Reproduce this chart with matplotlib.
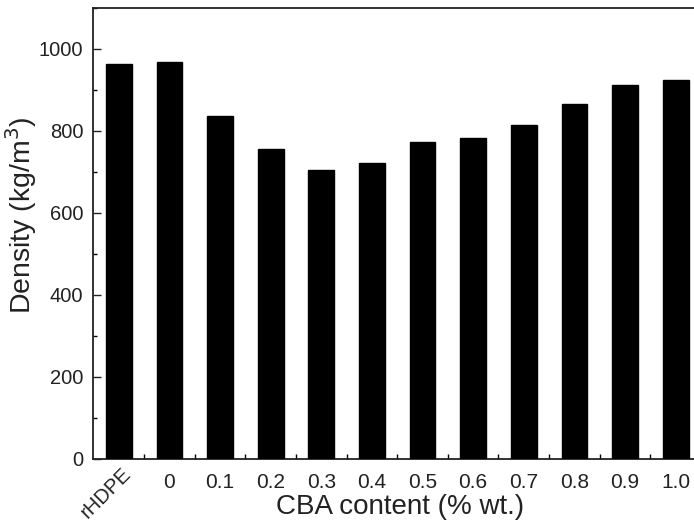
import numpy as np
import matplotlib.pyplot as plt
import matplotlib.transforms as mtransforms
from matplotlib.ticker import MultipleLocator, FixedLocator

# Density of rHDPE foams vs chemical blowing agent content
samples = ["rHDPE", "0", "0.1", "0.2", "0.3", "0.4", "0.5", "0.6", "0.7", "0.8", "0.9", "1.0"]
density = [964, 968, 836, 757, 705, 723, 774, 784, 815, 865, 913, 924]

plt.rcParams["font.family"] = ["Liberation Sans", "DejaVu Sans"]

fig = plt.figure(figsize=(6.94, 5.22), dpi=100)
ax = fig.add_axes([0.134, 0.1207, 0.8775, 0.864])

x = np.arange(len(samples))
ax.bar(x, density, width=0.51, color="black", edgecolor="black", zorder=3)

ax.set_xlim(-0.51, 11.52)
ax.set_ylim(0, 1100)

# neat sample gets a rotated label, drawn separately
ax.set_xticks(x)
ax.set_xticklabels([""] + samples[1:])
ax.xaxis.set_minor_locator(FixedLocator(x[:-1] + 0.5))
ax.yaxis.set_major_locator(MultipleLocator(200))
ax.yaxis.set_minor_locator(MultipleLocator(100))

ax.tick_params(axis="x", which="major", length=0, pad=10, labelsize=15, colors="#222222")
ax.tick_params(axis="x", which="minor", direction="in", length=3.5, width=1.0)
ax.tick_params(axis="y", which="major", direction="in", length=5.5, width=1.0,
               pad=7, labelsize=14.5, colors="#222222")
ax.tick_params(axis="y", which="minor", direction="in", length=3, width=1.0)

trans = mtransforms.blended_transform_factory(ax.transData, ax.transAxes)
trans = trans + mtransforms.ScaledTranslation(2 / 100, 0, fig.dpi_scale_trans)
ax.text(x[0], -0.011, samples[0], transform=trans, rotation=45,
        rotation_mode="anchor", ha="right", va="top", fontsize=14.5, color="#222222")

for sp in ax.spines.values():
    sp.set_linewidth(1.3)
    sp.set_color("#222222")

ax.set_xlabel("CBA content (% wt.)", fontsize=20, color="#222222")
ax.xaxis.set_label_coords(0.505, -0.077)
ax.set_ylabel("Density (kg/m$^3$)", fontsize=20.5, color="#222222")
ax.yaxis.set_label_coords(-0.089, 0.54)

fig.savefig("out.png", dpi=100)
